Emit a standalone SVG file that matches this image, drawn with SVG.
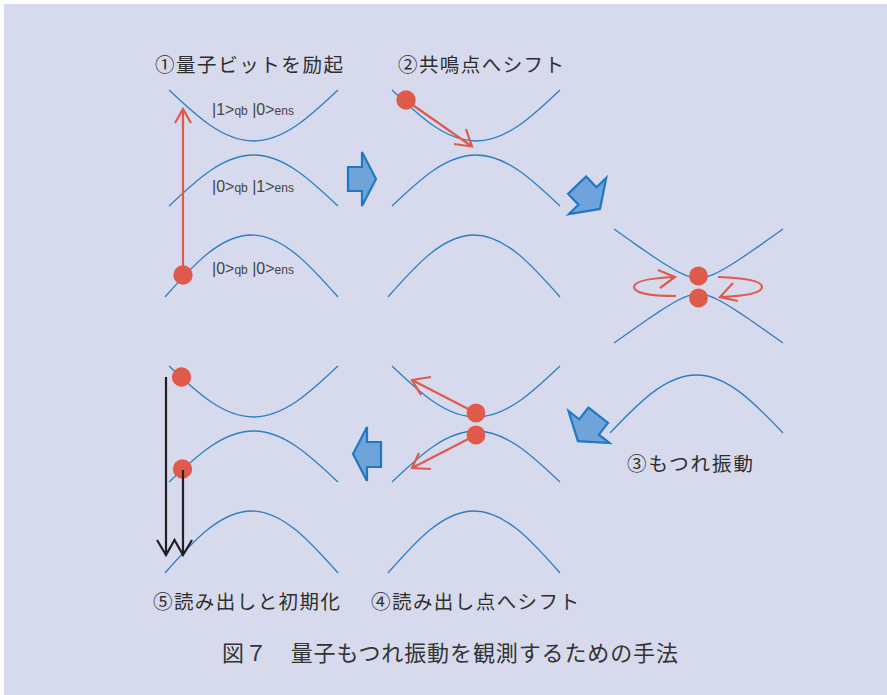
<svg xmlns="http://www.w3.org/2000/svg" width="887" height="695" viewBox="0 0 887 695">
<style>
.curve{fill:none;stroke:#2b7ec3;stroke-width:1.3}
.red{fill:none;stroke:#e05a4b;stroke-width:2.2}
.dot{fill:#e05a4b}
.blk{fill:none;stroke:#231f20;stroke-width:2.2}
.blue{fill:#6fa3da;stroke:#1f78c1;stroke-width:2.2;stroke-linejoin:miter}
.lbl{font-family:"Noto Sans CJK JP","Noto Sans",sans-serif;font-size:19.5px;fill:#2e2e2e}
.cap{font-family:"Noto Sans CJK JP","Noto Sans",sans-serif;font-size:22px;fill:#333}
.ket{font-family:"Liberation Sans",Arial,sans-serif;font-size:16px;fill:#444}
.sub{font-size:12px}
</style>
<rect x="0" y="0" width="887" height="695" fill="#ffffff"/>
<rect x="4" y="4" width="883" height="691" fill="#d7daec"/>

<g id="panel1">
<text class="lbl" x="155" y="72" textLength="188" lengthAdjust="spacing">①量子ビットを励起</text>
<path class="curve" d="M169,90 C196.6,116.1 222.9,141 253.5,141 C284.1,141 310.4,116.1 338,90"/>
<path class="curve" d="M169,206 C196.6,179.9 222.9,155 253.5,155 C284.1,155 310.4,179.9 338,206"/>
<path class="curve" d="M165,297 C193.2,265.2 220.2,235 251.5,235 C282.8,235 309.8,265.2 338,297"/>
<text class="ket" x="212" y="115">|1&gt;<tspan class="sub">qb</tspan> |0&gt;<tspan class="sub">ens</tspan></text>
<text class="ket" x="212" y="192">|0&gt;<tspan class="sub">qb</tspan> |1&gt;<tspan class="sub">ens</tspan></text>
<text class="ket" x="212" y="274">|0&gt;<tspan class="sub">qb</tspan> |0&gt;<tspan class="sub">ens</tspan></text>
<path class="red" d="M183,275 L183,109 M175,123 L183,109 L191,123"/>
<circle class="dot" cx="183" cy="275" r="9.7"/>
</g>

<g id="panel2">
<text class="lbl" x="398" y="72" textLength="166" lengthAdjust="spacing">②共鳴点へシフト</text>
<path class="curve" d="M392,90 C419.4,116.1 445.6,141 476,141 C506.4,141 532.6,116.1 560,90"/>
<path class="curve" d="M392,206 C419.4,179.9 445.6,155 476,155 C506.4,155 532.6,179.9 560,206"/>
<path class="curve" d="M388,297 C416,265.2 442.9,235 474,235 C505.1,235 532,265.2 560,297"/>
<path class="red" d="M407,101 L472,146.5 M466,129 L472,146.5 L454,144"/>
<circle class="dot" cx="406" cy="100" r="9.7"/>
</g>

<g id="panel3">
<path class="curve" d="M614,229 L628.5,239.3 L638.5,246.4 L648.5,253.3 L658.5,260 L663.5,263.2 L668.5,266.3 L673.5,269.3 L678.5,272 L682.5,273.9 L686.5,275.6 L690.5,276.9 L694.5,277.7 L698.5,278 L702.5,277.7 L706.5,276.9 L710.5,275.6 L714.5,273.9 L718.5,272 L723.5,269.3 L728.5,266.3 L733.5,263.2 L738.5,260 L748.5,253.3 L758.5,246.4 L768.5,239.3 L783,229"/>
<path class="curve" d="M614,343 L628.5,332.7 L638.5,325.7 L648.5,318.8 L658.5,312.1 L663.5,308.8 L668.5,305.7 L673.5,302.7 L678.5,300 L682.5,298.1 L686.5,296.4 L690.5,295.1 L694.5,294.3 L698.5,294 L702.5,294.3 L706.5,295.1 L710.5,296.4 L714.5,298.1 L718.5,300 L723.5,302.7 L728.5,305.7 L733.5,308.8 L738.5,312.1 L748.5,318.8 L758.5,325.7 L768.5,332.7 L783,343"/>
<path class="curve" d="M610,433 C638.2,403.3 665.2,375 696.5,375 C727.8,375 754.8,403.3 783,433"/>
<path class="red" d="M676,296 C650,296 634,293 634,287 C634,281 652,278 675,277 M658,270 L675,277 L660,288"/>
<path class="red" d="M718,277 C745,278 762,281 762,287 C762,293 746,296 720,297 M733,283 L720,297 L738,301"/>
<circle class="dot" cx="698.5" cy="276" r="9.4"/>
<circle class="dot" cx="698.5" cy="298" r="9.4"/>
<text class="lbl" x="627" y="471" textLength="126" lengthAdjust="spacing">③もつれ振動</text>
</g>

<g id="panel4">
<path class="curve" d="M392,366 C419.4,392.1 445.6,417 476,417 C506.4,417 532.6,392.1 560,366"/>
<path class="curve" d="M392,482 C419.4,455.9 445.6,431 476,431 C506.4,431 532.6,455.9 560,482"/>
<path class="curve" d="M388,573 C416,541.2 442.9,511 474,511 C505.1,511 532,541.2 560,573"/>
<path class="red" d="M476,413 L412,380 M431,377 L412,380 L421,395"/>
<path class="red" d="M476,435 L412,468 M419,453 L412,468 L431,469"/>
<circle class="dot" cx="476" cy="413" r="9.4"/>
<circle class="dot" cx="476" cy="435" r="9.4"/>
<text class="lbl" x="371" y="609" textLength="208" lengthAdjust="spacing">④読み出し点へシフト</text>
</g>

<g id="panel5">
<path class="curve" d="M169,366 C196.6,392.1 222.9,417 253.5,417 C284.1,417 310.4,392.1 338,366"/>
<path class="curve" d="M169,482 C196.6,455.9 222.9,431 253.5,431 C284.1,431 310.4,455.9 338,482"/>
<path class="curve" d="M165,573 C193.2,541.2 220.2,511 251.5,511 C282.8,511 309.8,541.2 338,573"/>
<circle class="dot" cx="181.5" cy="377" r="9.7"/>
<circle class="dot" cx="182.5" cy="469" r="9.7"/>
<path class="blk" d="M166,377 L166,555 M183,470 L183,555 M157,540 L166,555 L174.5,540 L183,555 L192,540"/>
<text class="lbl" x="153" y="609" textLength="187" lengthAdjust="spacing">⑤読み出しと初期化</text>
</g>

<g id="connectors">
<polygon class="blue" points="348,167 362,167 362,152 376,179 362,206 362,191 348,191"/>
<polygon class="blue" transform="translate(587.5,196) rotate(46)" points="-15,-12.5 0,-12.5 0,-26 18,0 0,26 0,12.5 -15,12.5"/>
<polygon class="blue" transform="translate(589,427) rotate(128)" points="-15,-12.5 0,-12.5 0,-26 18,0 0,26 0,12.5 -15,12.5"/>
<polygon class="blue" points="381,442 367,442 367,427 353,454 367,481 367,467 381,467"/>
</g>

<text class="cap" x="222" y="661" textLength="456" lengthAdjust="spacing">図７　量子もつれ振動を観測するための手法</text>
</svg>
